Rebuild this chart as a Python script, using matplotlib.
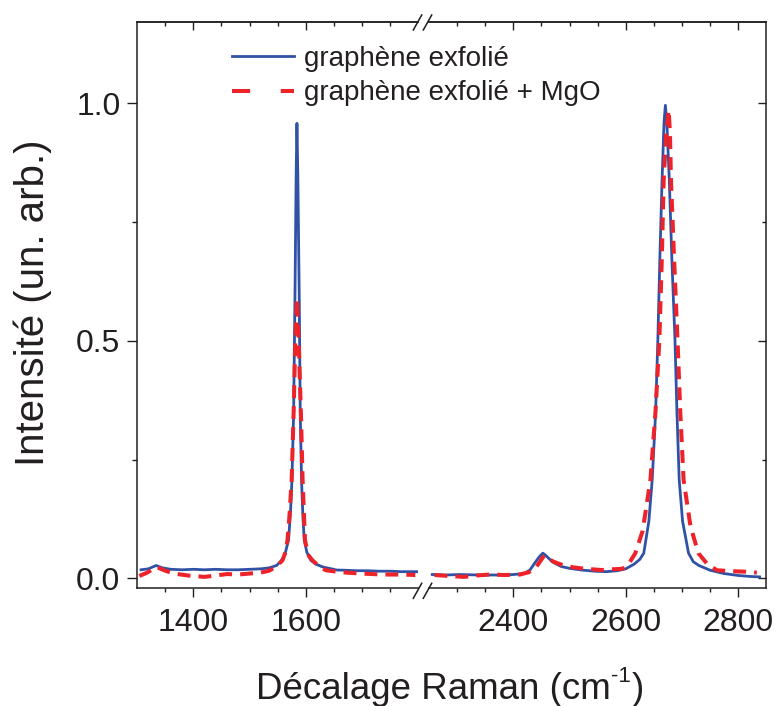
import matplotlib
matplotlib.use('Agg')
import matplotlib.pyplot as plt
from matplotlib.lines import Line2D
from matplotlib.ticker import FixedLocator

plt.rcParams['font.family'] = ['Liberation Sans', 'DejaVu Sans']

# ---------------- data ----------------
blue_left_x = [1307, 1320, 1334, 1345, 1360, 1380, 1400, 1420, 1440, 1460, 1480, 1500, 1520,
               1535, 1548, 1556, 1563, 1569.5, 1573, 1575.5, 1578.5, 1580.9, 1583, 1584.4,
               1586, 1588.5, 1590.3, 1592.6, 1595, 1597.4, 1602, 1609, 1618, 1630, 1642,
               1655, 1670, 1690, 1710, 1730, 1750, 1770, 1790, 1800]
blue_left_y = [0.018, 0.020, 0.027, 0.022, 0.019, 0.018, 0.019, 0.018, 0.019, 0.018, 0.018,
               0.019, 0.020, 0.022, 0.027, 0.036, 0.050, 0.081, 0.14, 0.207, 0.348, 0.593,
               0.85, 0.958, 0.85, 0.593, 0.348, 0.207, 0.13, 0.081, 0.055, 0.038, 0.030,
               0.024, 0.021, 0.0175, 0.017, 0.016, 0.016, 0.015, 0.015, 0.014, 0.014, 0.014]

red_left_x = [1304, 1318, 1334, 1350, 1366, 1390, 1420, 1440, 1460, 1480, 1500, 1520, 1535,
              1548, 1558.8, 1564, 1567.7, 1571, 1575, 1578.5, 1581.5, 1584.4, 1587.5, 1591.5,
              1594.5, 1598.7, 1604, 1612, 1624, 1636, 1655, 1672, 1700, 1737, 1770, 1795]
red_left_y = [0.005, 0.012, 0.024, 0.016, 0.010, 0.006, 0.003, 0.006, 0.009, 0.008, 0.010,
              0.012, 0.016, 0.025, 0.038, 0.055, 0.081, 0.13, 0.207, 0.348, 0.50, 0.589, 0.50,
              0.348, 0.207, 0.081, 0.050, 0.038, 0.025, 0.017, 0.014, 0.012, 0.010, 0.008,
              0.008, 0.007]

blue_right_x = [2256, 2280, 2304, 2340, 2376, 2400, 2420, 2430, 2438, 2446, 2452.5, 2458, 2463,
                2472, 2485, 2500, 2521, 2545, 2565, 2585, 2600, 2615, 2625, 2632, 2641, 2647,
                2653, 2657, 2660.5, 2664.5, 2668, 2670.4, 2673, 2677.4, 2682, 2687.5, 2691,
                2695, 2701, 2711.6, 2720, 2730, 2750, 2775, 2800, 2820, 2838]
blue_right_y = [0.008, 0.007, 0.008, 0.007, 0.007, 0.008, 0.010, 0.018, 0.032, 0.045, 0.053,
                0.048, 0.042, 0.033, 0.025, 0.021, 0.0175, 0.015, 0.014, 0.016, 0.020, 0.030,
                0.040, 0.053, 0.12, 0.207, 0.348, 0.501, 0.67, 0.838, 0.96, 0.996, 0.96, 0.838,
                0.67, 0.501, 0.348, 0.207, 0.12, 0.053, 0.035, 0.027, 0.017, 0.010, 0.006,
                0.004, 0.003]

red_right_x = [2260, 2285, 2312, 2335, 2358, 2385, 2412, 2428, 2441, 2449, 2455, 2462, 2470,
               2478, 2495, 2521, 2540, 2557, 2575, 2594, 2605, 2617, 2630, 2643.8, 2652.7,
               2659.7, 2664, 2667.4, 2672, 2676.2, 2678.5, 2680.4, 2686, 2692, 2697, 2702.8,
               2715, 2729, 2745, 2762, 2790, 2812, 2833]
red_right_y = [0.007, 0.005, 0.003, 0.006, 0.008, 0.007, 0.008, 0.013, 0.024, 0.038, 0.048,
               0.042, 0.036, 0.032, 0.025, 0.021, 0.019, 0.0175, 0.019, 0.020, 0.030, 0.053,
               0.10, 0.207, 0.348, 0.501, 0.67, 0.838, 0.94, 0.986, 0.94, 0.838, 0.67, 0.501,
               0.348, 0.207, 0.11, 0.053, 0.030, 0.017, 0.015, 0.014, 0.012]

series_labels = ['graphène exfolié', 'graphène exfolié + MgO']
left_range = (1300, 1800)
right_range = (2250, 2850)
left_major = [1400, 1600]
right_major = [2400, 2600, 2800]
y_major = [0.0, 0.5, 1.0]
y_minor = [0.25, 0.75]
y_range = (-0.021, 1.172)
x_title_parts = ['Décalage Raman (cm', '-1', ')']
y_title = 'Intensité (un. arb.)'

# ---------------- style ----------------
BLUE = '#3052a6'
RED = '#ee2229'
INK = '#231f20'
W, H = 778, 706
fig = plt.figure(figsize=(W / 100, H / 100), dpi=100)


def fx(px):
    return px / W


def fy(py):
    return 1 - py / H


top_px, bot_px = 21.7, 588.3
ax1 = fig.add_axes([fx(137.1), fy(bot_px), fx(418.1) - fx(137.1), fy(top_px) - fy(bot_px)])
ax2 = fig.add_axes([fx(428.9), fy(bot_px), fx(766.4) - fx(428.9), fy(top_px) - fy(bot_px)],
                   sharey=ax1)

dash = (3.2, 2.0)
for ax, bx, by, rx, ry in [(ax1, blue_left_x, blue_left_y, red_left_x, red_left_y),
                           (ax2, blue_right_x, blue_right_y, red_right_x, red_right_y)]:
    ax.plot(bx, by, color=BLUE, lw=2.0, zorder=2, solid_joinstyle='round')
    ax.plot(rx, ry, color=RED, lw=2.9, dashes=dash, zorder=3)
    for s in ax.spines.values():
        s.set_linewidth(1.1)
        s.set_color(INK)

ax1.set_xlim(*left_range)
ax2.set_xlim(*right_range)
ax1.set_ylim(*y_range)

ax1.spines['right'].set_visible(False)
ax2.spines['left'].set_visible(False)

left_minor = [v for v in range(1350, 1800, 50) if v not in left_major]
right_minor = [v for v in range(2300, 2850, 50) if v not in right_major]

for ax, maj, mnr in [(ax1, left_major, left_minor), (ax2, right_major, right_minor)]:
    ax.xaxis.set_major_locator(FixedLocator(maj))
    ax.xaxis.set_minor_locator(FixedLocator(mnr))
    ax.tick_params(axis='x', which='both', direction='out', top=False, bottom=True,
                   colors=INK, labelsize=23, pad=8, width=1.0)
    ax.tick_params(axis='x', which='major', length=6.5)
    ax.tick_params(axis='x', which='minor', length=3.2)
    sec = ax.secondary_xaxis('top')
    sec.xaxis.set_major_locator(FixedLocator(maj))
    sec.xaxis.set_minor_locator(FixedLocator(mnr))
    sec.tick_params(axis='x', which='both', direction='in', labeltop=False, colors=INK, width=1.0)
    sec.tick_params(axis='x', which='major', length=6.0)
    sec.tick_params(axis='x', which='minor', length=3.0)
    sec.spines['top'].set_linewidth(1.1)
    sec.spines['top'].set_color(INK)

ax1.yaxis.set_major_locator(FixedLocator(y_major))
ax1.yaxis.set_minor_locator(FixedLocator(y_minor))
ax1.set_yticklabels(['0.0', '0.5', '1.0'])
ax1.tick_params(axis='y', which='both', direction='out', left=True, right=False,
                colors=INK, labelsize=23, pad=5, width=1.0)
ax1.tick_params(axis='y', which='major', length=7)
ax1.tick_params(axis='y', which='minor', length=3.5)
ax2.tick_params(axis='y', which='both', direction='in', left=False, right=True,
                labelleft=False, colors=INK, width=1.0)
ax2.tick_params(axis='y', which='major', length=6)
ax2.tick_params(axis='y', which='minor', length=3)

# axis-break marks
for (x0, y0, x1, y1) in [(413.3, 598.3, 421.7, 583.3), (423.3, 598.3, 431.7, 583.3),
                         (413.3, 30.0, 421.7, 15.0), (423.3, 30.0, 431.7, 15.0)]:
    fig.add_artist(Line2D([fx(x0), fx(x1)], [fy(y0), fy(y1)], transform=fig.transFigure,
                          color=INK, lw=1.1, clip_on=False))

# legend
handles = [Line2D([], [], color=BLUE, lw=2.0),
           Line2D([], [], color=RED, lw=2.9, dashes=(4.5, 7.6))]
fig.legend(handles, series_labels, loc='upper left', bbox_to_anchor=(fx(231.7), fy(46)),
           bbox_transform=fig.transFigure, frameon=False, fontsize=20, handlelength=2.23,
           handletextpad=0.36, labelspacing=0.3, borderpad=0, borderaxespad=0,
           labelcolor=INK)

# x title with a small raised "-1"
renderer = fig.canvas.get_renderer()
base_y = fy(699)
t_main = fig.text(0, base_y, x_title_parts[0], ha='left', va='baseline', fontsize=26.5, color=INK)
t_sup = fig.text(0, base_y + 17 / H, x_title_parts[1], ha='left', va='baseline', fontsize=16,
                 color=INK)
t_end = fig.text(0, base_y, x_title_parts[2], ha='left', va='baseline', fontsize=26.5, color=INK)
w_main = t_main.get_window_extent(renderer).width
w_sup = t_sup.get_window_extent(renderer).width
w_end = t_end.get_window_extent(renderer).width
total = w_main + w_sup + w_end + 2
start = 450 - total / 2
t_main.set_x(fx(start))
t_sup.set_x(fx(start + w_main + 1))
t_end.set_x(fx(start + w_main + w_sup + 2))

fig.text(fx(33), fy(303), y_title, ha='center', va='center', rotation=90, fontsize=29,
         color=INK)

fig.savefig('out.png', dpi=100)
